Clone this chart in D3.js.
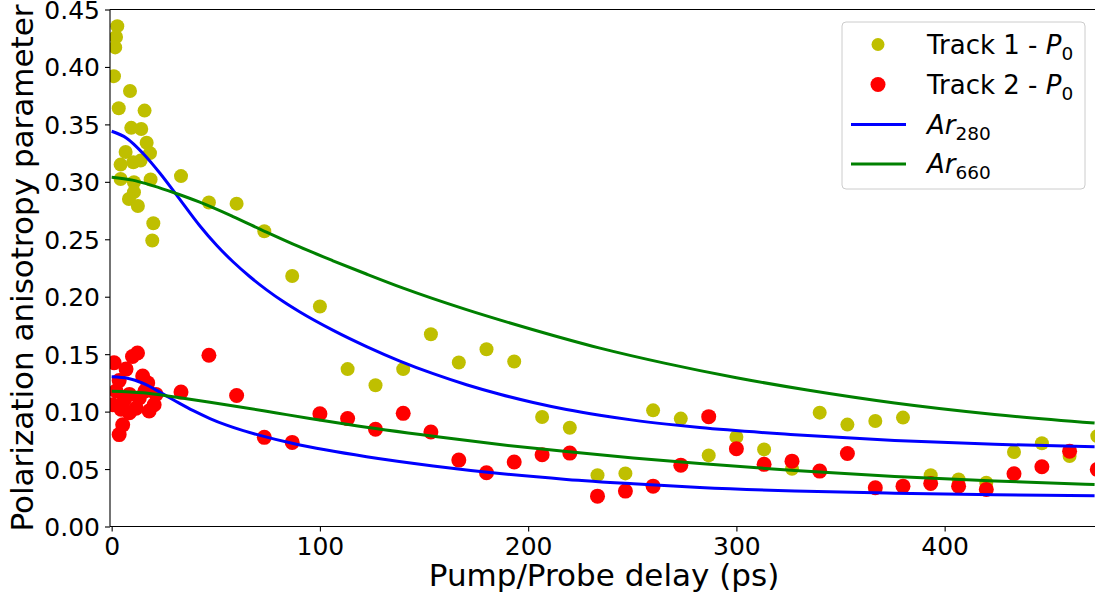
<!DOCTYPE html>
<html>
<head>
<meta charset="utf-8">
<script src="https://cdn.jsdelivr.net/npm/d3@7"></script>
<style>
  html, body { margin: 0; padding: 0; background: #fff; }
  svg { display: block; font-family: 'DejaVu Sans', sans-serif; }
</style>
</head>
<body>
<div id="container"></div>
<script>
/* DATA */
// Track 1 - P0 (yellow points)
var track1X = [2.7, 2.1, 1.7, 1.1, 8.8, 3.4, 15.8, 9.4, 14.2, 16.8, 18.4, 6.7, 4.3, 10.4, 13.9, 18.7, 4.3, 10.7, 10.7, 8.3, 12.6, 20, 19.5,
               33.3, 46.7, 60, 73.3, 86.7, 100, 113.3, 126.7, 140, 153.3, 166.7, 180, 193.3, 206.7, 220, 233.3, 246.7, 260, 273.3,
               286.7, 300, 313.3, 326.7, 340, 353.3, 366.7, 380, 393.3, 406.7, 420, 433.3, 446.7, 460, 473.3]
var track1Y = [0.4355, 0.426, 0.417, 0.392, 0.379, 0.364, 0.362, 0.347, 0.346, 0.334, 0.325, 0.326, 0.315, 0.317, 0.3185, 0.302, 0.3025, 0.2996, 0.291, 0.285, 0.279, 0.264, 0.249,
               0.305, 0.282, 0.281, 0.257, 0.218, 0.1915, 0.137, 0.123, 0.137, 0.1674, 0.1427, 0.1543, 0.1436, 0.0953, 0.086, 0.0447, 0.0462, 0.1011, 0.0939,
               0.0619, 0.0779, 0.0671, 0.0503, 0.0991, 0.0887, 0.0918, 0.0948, 0.0447, 0.041, 0.0381, 0.0648, 0.0724, 0.0613, 0.0787]

// Track 2 - P0 (red points)
var track2X = [12.4, 10.0, 1.2, 6.9, 14.9, 17.3, 3.6, 2.1, 21.3, 20.4, 18, 11.7, 8.5, 4.5, 0.5, 5.3, 3.6, 13.3, 8.5, 16, 6,
               33.3, 46.7, 60, 73.3, 86.7, 100, 113.3, 126.7, 140, 153.3, 166.7, 180, 193.3, 206.7, 220, 233.3, 246.7, 260, 273.3,
               286.7, 300, 313.3, 326.7, 340, 353.3, 366.7, 380, 393.3, 406.7, 420, 433.3, 446.7, 460, 473.3]
var track2Y = [0.151, 0.148, 0.1425, 0.137, 0.131, 0.125, 0.127, 0.118, 0.115, 0.106, 0.1005, 0.103, 0.099, 0.102, 0.106, 0.0885, 0.080, 0.112, 0.115, 0.118, 0.110,
               0.117, 0.149, 0.114, 0.0776, 0.0732, 0.0982, 0.0939, 0.0846, 0.0985, 0.0822, 0.0578, 0.0468, 0.0561, 0.0625, 0.0639, 0.0264, 0.0308, 0.0351, 0.0534,
               0.0956, 0.0677, 0.0541, 0.0569, 0.0482, 0.0636, 0.0337, 0.0351, 0.0375, 0.0351, 0.0323, 0.0459, 0.052, 0.0656, 0.0497]

// Ar280 curves (blue)
var ar280UpperX = [0, 7.2, 15.2, 23.2, 31.2, 42.4, 50.4, 58.4, 66.4, 74.4, 82.4, 90.4, 106.4, 122.4, 138.4, 154.4, 170.4, 186.4, 202.4, 218.4, 234.4, 250.4, 266.4, 282.4, 328, 376, 424, 472]
var ar280UpperY = [0.344, 0.338, 0.3245, 0.3075, 0.2885, 0.2616, 0.2448, 0.2302, 0.2174, 0.2060, 0.1958, 0.1867, 0.1707, 0.1566, 0.1440, 0.1330, 0.1234, 0.1151, 0.1079, 0.1018, 0.0968, 0.0926, 0.0891, 0.0861, 0.0799, 0.0749, 0.0715, 0.0695]
var ar280LowerX = [0, 8, 15.2, 24.8, 32, 39.2, 47.2, 55.2, 63.2, 71.2, 87.2, 103.2, 122.4, 154.4, 186.4, 218.4, 250.4, 282.4, 328, 376, 424, 472]
var ar280LowerY = [0.1303, 0.1289, 0.1246, 0.1152, 0.1078, 0.1008, 0.0940, 0.0882, 0.0834, 0.0793, 0.0722, 0.0665, 0.0607, 0.0527, 0.0461, 0.0410, 0.0372, 0.0340, 0.0309, 0.0290, 0.0277, 0.0267]

// Ar660 curves (green)
var ar660UpperX = [0, 10, 20, 30, 42, 58, 74, 90, 106, 122, 140, 170, 202, 234, 266, 300, 334, 376, 424, 472]
var ar660UpperY = [0.304, 0.3015, 0.2965, 0.2905, 0.2825, 0.2700, 0.2565, 0.2435, 0.2315, 0.2200, 0.2075, 0.1890, 0.1715, 0.1555, 0.1420, 0.1295, 0.1188, 0.1075, 0.0975, 0.0900]
var ar660LowerX = [0, 15.2, 31.2, 47.2, 63.2, 79.2, 95.2, 114.4, 154.4, 186.4, 218.4, 250.4, 282.4, 328, 376, 424, 472]
var ar660LowerY = [0.1178, 0.1164, 0.1125, 0.1082, 0.1036, 0.0988, 0.0940, 0.0885, 0.0785, 0.0713, 0.0652, 0.0597, 0.0548, 0.0487, 0.0435, 0.0396, 0.0366]

var xTicks = [0, 100, 200, 300, 400]
var yTicks = [0, 0.05, 0.10, 0.15, 0.20, 0.25, 0.30, 0.35, 0.40, 0.45]

/* SET UP */
var width = 1095, height = 598
var plotLeft = 110, plotTop = 9.5, plotBottom = 526.5, plotRight = 1095

var svg = d3.select('#container').append('svg')
  .attr('width', width)
  .attr('height', height)

var x = d3.scaleLinear().domain([-0.8, 472.2]).range([plotLeft, plotRight])
var y = d3.scaleLinear().domain([0, 0.45]).range([plotBottom, plotTop])

svg.append('defs').append('clipPath').attr('id', 'plotclip')
  .append('rect').attr('x', plotLeft).attr('y', plotTop)
  .attr('width', plotRight - plotLeft).attr('height', plotBottom - plotTop)

var plot = svg.append('g').attr('clip-path', 'url(#plotclip)')

function zipPts(xs, ys) { return xs.map(function(v, i) { return [v, ys[i]] }) }

// points
plot.selectAll('circle.t1').data(zipPts(track1X, track1Y)).enter()
  .append('circle').attr('class', 't1')
  .attr('cx', function(d) { return x(d[0]) })
  .attr('cy', function(d) { return y(d[1]) })
  .attr('r', 7)
  .style('fill', '#bfbf00')

plot.selectAll('circle.t2').data(zipPts(track2X, track2Y)).enter()
  .append('circle').attr('class', 't2')
  .attr('cx', function(d) { return x(d[0]) })
  .attr('cy', function(d) { return y(d[1]) })
  .attr('r', 7.5)
  .style('fill', '#ff0000')

// fitted curves
var line = d3.line()
  .x(function(d) { return x(d[0]) })
  .y(function(d) { return y(d[1]) })
  .curve(d3.curveMonotoneX)

var curves = [
  [ar280UpperX, ar280UpperY, '#0000ff'],
  [ar280LowerX, ar280LowerY, '#0000ff'],
  [ar660UpperX, ar660UpperY, '#008000'],
  [ar660LowerX, ar660LowerY, '#008000']
]
curves.forEach(function(c) {
  plot.append('path')
    .attr('d', line(zipPts(c[0], c[1])))
    .style('fill', 'none')
    .style('stroke', c[2])
    .style('stroke-width', 3)
})

/* AXES */
var xAxis = svg.append('g').attr('transform', 'translate(0,' + plotBottom + ')')
  .call(d3.axisBottom(x).tickValues(xTicks).tickSize(5).tickPadding(6).tickFormat(d3.format('d')))
var yAxis = svg.append('g').attr('transform', 'translate(' + plotLeft + ',0)')
  .call(d3.axisLeft(y).tickValues(yTicks).tickSize(5).tickPadding(5).tickFormat(d3.format('.2f')))

;[xAxis, yAxis].forEach(function(a) {
  a.select('.domain').remove()
  a.selectAll('line').style('stroke', '#000').style('stroke-width', 1.1)
  a.selectAll('text').style('font-size', '25px').style('fill', '#000').style('font-family', 'DejaVu Sans')
})
xAxis.selectAll('text').attr('dy', '0.71em')
yAxis.selectAll('text').attr('dy', '0.36em')

// spines
svg.append('line').attr('x1', plotLeft).attr('x2', plotLeft).attr('y1', plotTop).attr('y2', plotBottom)
  .style('stroke', '#000').style('stroke-width', 1.1)
svg.append('line').attr('x1', plotLeft).attr('x2', plotRight).attr('y1', plotBottom).attr('y2', plotBottom)
  .style('stroke', '#000').style('stroke-width', 1.1)
svg.append('line').attr('x1', plotLeft).attr('x2', plotRight).attr('y1', plotTop).attr('y2', plotTop)
  .style('stroke', '#000').style('stroke-width', 1.1)

// axis labels
svg.append('text')
  .attr('x', 604).attr('y', 586)
  .attr('text-anchor', 'middle')
  .style('font-size', '31px')
  .text('Pump/Probe delay (ps)')

svg.append('text')
  .attr('transform', 'translate(33,' + ((plotTop + plotBottom) / 2) + ') rotate(-90)')
  .attr('text-anchor', 'middle')
  .style('font-size', '31px')
  .text('Polarization anisotropy parameter')

/* LEGEND */
var legend = svg.append('g')
legend.append('rect')
  .attr('x', 842).attr('y', 22).attr('width', 243).attr('height', 167)
  .attr('rx', 4).attr('ry', 4)
  .style('fill', '#fff').style('fill-opacity', 0.8)
  .style('stroke', '#cccccc').style('stroke-width', 1)

var rowY = [44.5, 84.5, 124.5, 164]

legend.append('circle').attr('cx', 878).attr('cy', rowY[0]).attr('r', 6.5).style('fill', '#bfbf00')
legend.append('circle').attr('cx', 878).attr('cy', rowY[1]).attr('r', 7.5).style('fill', '#ff0000')
legend.append('line').attr('x1', 851).attr('x2', 906).attr('y1', rowY[2]).attr('y2', rowY[2])
  .style('stroke', '#0000ff').style('stroke-width', 3)
legend.append('line').attr('x1', 851).attr('x2', 906).attr('y1', rowY[3]).attr('y2', rowY[3])
  .style('stroke', '#008000').style('stroke-width', 3)

function legendText(row, main, italic, sub) {
  var t = legend.append('text').attr('x', 927).attr('y', rowY[row] + 9).style('font-size', '26px')
  if (main) t.append('tspan').text(main)
  t.append('tspan').style('font-style', 'italic').text(italic)
  t.append('tspan').attr('dy', 6).style('font-size', '18.5px').text(sub)
}
legendText(0, 'Track 1 - ', 'P', '0')
legendText(1, 'Track 2 - ', 'P', '0')
legendText(2, '', 'Ar', '280')
legendText(3, '', 'Ar', '660')
</script>
</body>
</html>
